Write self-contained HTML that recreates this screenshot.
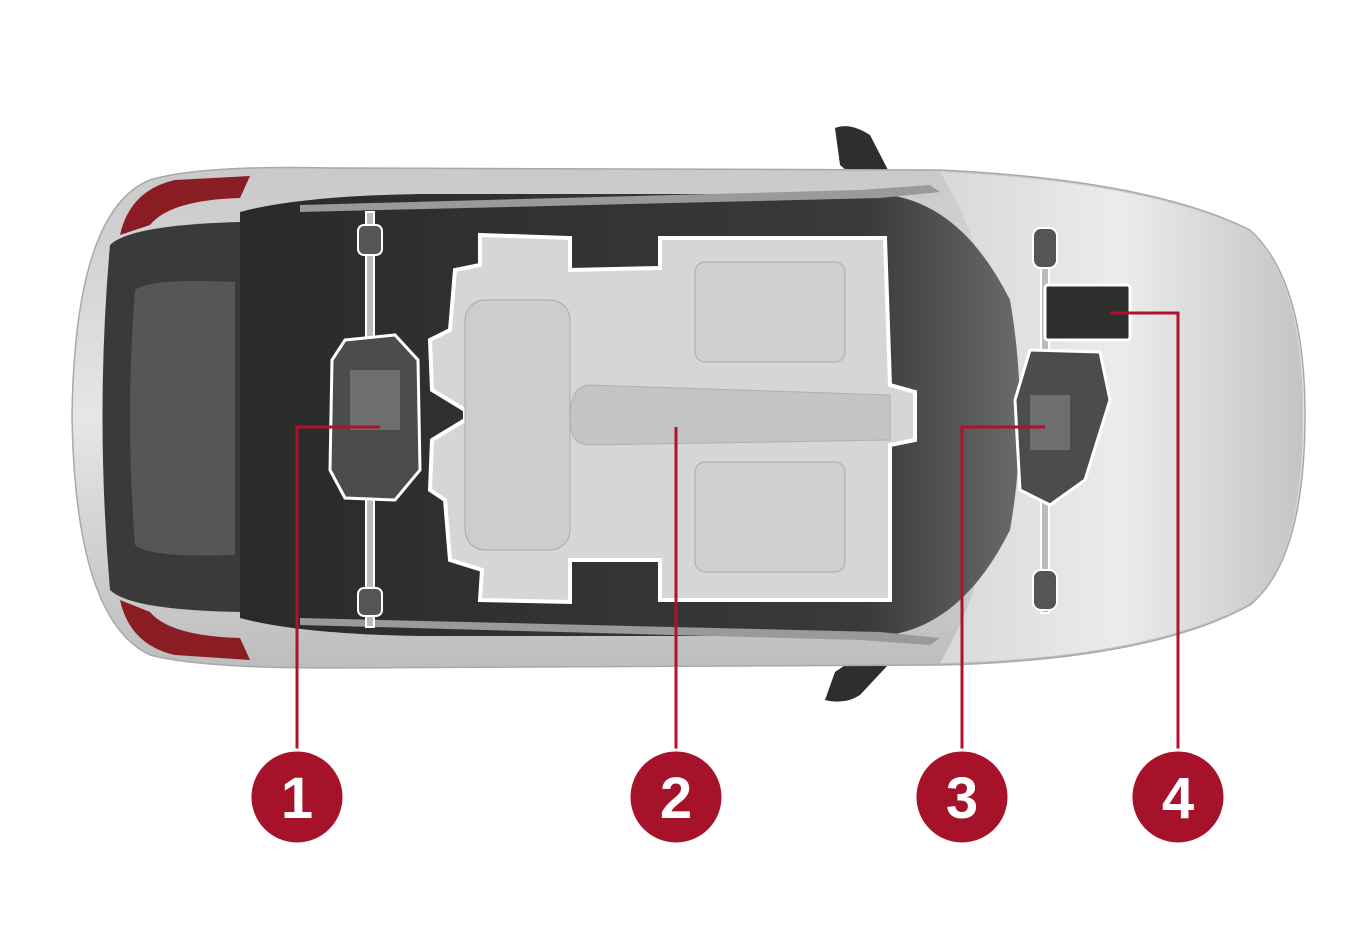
<!DOCTYPE html>
<html><head><meta charset="utf-8"><style>
html,body{margin:0;padding:0;background:#fff;}
svg{display:block}
</style></head><body>
<svg width="1366" height="941" viewBox="0 0 1366 941" xmlns="http://www.w3.org/2000/svg">
<defs>
<linearGradient id="body" x1="0" y1="0" x2="0" y2="1">
<stop offset="0" stop-color="#c9c9c9"/><stop offset="0.5" stop-color="#e6e6e6"/><stop offset="1" stop-color="#bdbdbd"/>
</linearGradient>
<linearGradient id="hood" x1="0" y1="0" x2="1" y2="0">
<stop offset="0" stop-color="#d8d8d8"/><stop offset="0.5" stop-color="#ececec"/><stop offset="1" stop-color="#c4c4c4"/>
</linearGradient>
<linearGradient id="glass" x1="0" y1="0" x2="1" y2="0">
<stop offset="0" stop-color="#2a2a2a"/><stop offset="0.8" stop-color="#3a3a3a"/><stop offset="1" stop-color="#6a6a6a"/>
</linearGradient>
</defs>
<!-- mirrors -->
<path d="M835 128 Q850 122 870 135 L888 170 Q880 185 860 182 L840 165 Z" fill="#2e2e2e"/>
<path d="M825 700 Q845 705 860 695 L888 665 Q880 652 860 655 L835 672 Z" fill="#2e2e2e"/>
<!-- body -->
<path d="M150 180 Q200 165 330 168 L940 170 Q1150 180 1250 230 Q1305 280 1305 415 Q1305 560 1250 605 Q1150 660 940 665 L330 668 Q200 668 150 655 Q75 620 72 415 Q75 210 150 180 Z" fill="url(#body)" stroke="#a9a9a9" stroke-width="1.5"/>
<path d="M940 172 Q1150 182 1250 232 Q1303 282 1303 415 Q1303 558 1250 603 Q1150 658 940 663 Q1000 560 1005 415 Q1000 270 940 172 Z" fill="url(#hood)"/>
<!-- tail lights -->
<path d="M120 235 Q130 190 175 180 L250 176 L240 198 Q170 200 150 225 Z" fill="#8a1c24"/>
<path d="M120 600 Q130 645 175 655 L250 660 L240 638 Q170 636 150 612 Z" fill="#8a1c24"/>
<!-- rear dark section -->
<path d="M110 245 Q130 225 240 222 L330 222 L330 612 L240 612 Q130 610 110 590 Q95 415 110 245 Z" fill="#3a3a3a"/>
<path d="M135 290 Q150 278 235 282 L235 555 Q150 558 135 545 Q125 415 135 290 Z" fill="#565656"/>
<!-- cabin glass -->
<path d="M240 212 Q300 196 420 194 L880 194 Q960 200 1010 300 Q1030 415 1010 530 Q960 630 880 636 L420 636 Q300 634 240 618 Z" fill="url(#glass)"/>
<path d="M300 205 L860 190 L930 185 L940 192 L880 198 L300 212 Z" fill="#9a9a9a"/>
<path d="M300 625 L860 640 L930 645 L940 638 L880 632 L300 618 Z" fill="#9a9a9a"/>
<!-- battery pack -->
<path d="M480 235 L570 238 L570 270 L660 268 L660 238 L885 238 L890 385 L915 392 L915 440 L890 445 L890 600 L660 600 L660 560 L570 560 L570 602 L480 600 L482 570 L450 560 L445 500 L430 490 L432 440 L465 420 L465 410 L432 390 L430 340 L450 330 L455 270 L480 265 Z" fill="#d6d6d6" stroke="#ffffff" stroke-width="4"/>
<path d="M590 385 L890 395 L890 440 L590 445 Q570 445 570 420 Q570 385 590 385 Z" fill="#c4c4c4" stroke="#b0b0b0"/>
<rect x="695" y="262" width="150" height="100" rx="10" fill="#cfcfcf" stroke="#aaa"/>
<rect x="695" y="462" width="150" height="110" rx="10" fill="#cfcfcf" stroke="#aaa"/>
<rect x="465" y="300" width="105" height="250" rx="20" fill="#cdcdcd" stroke="#aaa"/>
<!-- rear axle & motor -->
<rect x="366" y="212" width="8" height="415" fill="#bbb" stroke="#fff" stroke-width="2"/>
<rect x="358" y="225" width="24" height="30" rx="6" fill="#555" stroke="#fff" stroke-width="2"/>
<rect x="358" y="588" width="24" height="28" rx="6" fill="#555" stroke="#fff" stroke-width="2"/>
<path d="M345 340 L395 335 L418 360 L420 470 L395 500 L345 498 L330 470 L332 360 Z" fill="#4c4c4c" stroke="#fff" stroke-width="3"/>
<rect x="350" y="370" width="50" height="60" fill="#6e6e6e"/>
<!-- front axle & motor -->
<rect x="1041" y="228" width="8" height="385" fill="#bbb" stroke="#fff" stroke-width="2"/>
<rect x="1033" y="228" width="24" height="40" rx="8" fill="#555" stroke="#fff" stroke-width="2"/>
<rect x="1033" y="570" width="24" height="40" rx="8" fill="#555" stroke="#fff" stroke-width="2"/>
<rect x="1045" y="285" width="85" height="55" rx="3" fill="#2e2e2e" stroke="#fff" stroke-width="3"/>
<path d="M1030 350 L1100 352 L1110 400 L1085 480 L1050 505 L1020 490 L1015 400 Z" fill="#4c4c4c" stroke="#fff" stroke-width="3"/>
<rect x="1030" y="395" width="40" height="55" fill="#6e6e6e"/>
<!-- callout lines -->
<g stroke="#b0122c" stroke-width="3" fill="none">
<path d="M297 760 L297 427 L380 427"/>
<path d="M676 760 L676 427"/>
<path d="M962 760 L962 427 L1045 427"/>
<path d="M1178 760 L1178 313 L1110 313"/>
</g>
<g fill="#a6122a" stroke="#fff" stroke-width="3">
<circle cx="297" cy="797" r="47"/><circle cx="676" cy="797" r="47"/>
<circle cx="962" cy="797" r="47"/><circle cx="1178" cy="797" r="47"/>
</g>
<g fill="#fff" font-family="Liberation Sans, sans-serif" font-weight="bold" font-size="58" text-anchor="middle">
<text x="297" y="818">1</text><text x="676" y="818">2</text>
<text x="962" y="818">3</text><text x="1178" y="818">4</text>
</g>
</svg>
</body></html>
